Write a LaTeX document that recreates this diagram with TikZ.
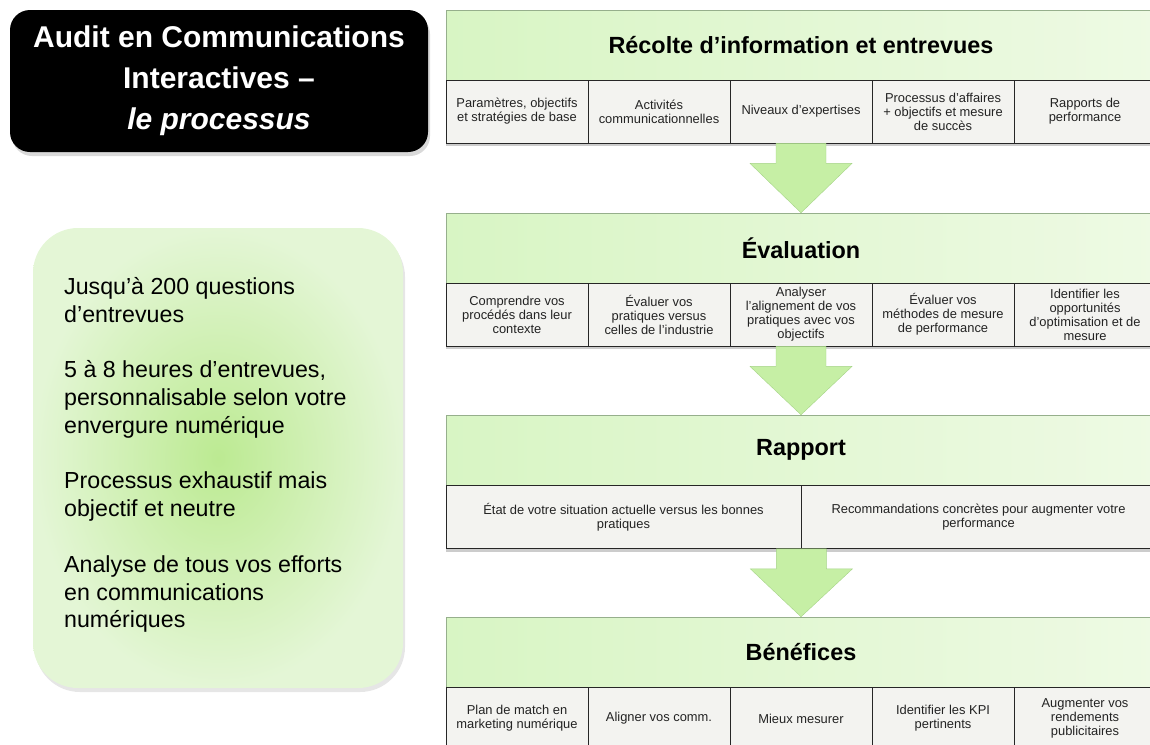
\documentclass[tikz,border=0pt]{standalone}
\usepackage{fontspec}
\setmainfont{Liberation Sans}
\usetikzlibrary{calc}
\usetikzlibrary{shadows}
\definecolor{headl}{RGB}{216,245,196}
\definecolor{headm}{RGB}{200,240,166}
\definecolor{headr}{RGB}{238,250,228}
\definecolor{headline}{RGB}{150,175,140}
\definecolor{cellfill}{RGB}{243,243,240}
\definecolor{celltext}{RGB}{35,35,35}
\definecolor{arrowfill}{RGB}{198,239,165}
\definecolor{arrowline}{RGB}{165,212,135}
\definecolor{infoin}{RGB}{188,234,146}
\definecolor{infoout}{RGB}{228,246,214}
\tikzset{
    titlebox/.style = {rectangle, rounded corners=20pt, fill=black, text=white, minimum width=418pt, minimum height=142pt, align=center, font=\bfseries\fontsize{30}{41}\selectfont, drop shadow={shadow xshift=2pt, shadow yshift=-4pt, opacity=.3}},
    infobox/.style = {rectangle, rounded corners=45pt, inner color=infoin, outer color=infoout, minimum width=370pt, minimum height=460pt, drop shadow={shadow xshift=2pt, shadow yshift=-4pt, opacity=.2}},
    infotext/.style = {align=left, inner sep=0pt, font=\fontsize{23.2}{27.8}\selectfont},
    head/.style = {rectangle, draw=headline, left color=headl, middle color=headm, right color=headr, minimum width=710pt, minimum height=70pt, font=\bfseries\fontsize{23.4}{26}\selectfont},
    cell/.style = {rectangle, draw=black!85, thick, fill=cellfill, text=celltext, minimum width=142pt, minimum height=63pt, inner sep=2pt, align=center, font=\fontsize{12.9}{14}\selectfont, drop shadow={shadow xshift=0pt, shadow yshift=-3pt, opacity=.4}},
    widecell/.style = {cell, minimum width=355pt},
    bigarrow/.style = {draw=arrowline, fill=arrowfill, line join=miter}
}
\newcommand{\flowarrow}[2]{%
  \draw[bigarrow] ($(#1)+(-25,0)$) -- ($(#1)+(25,0)$) -- ($(#1)+(25,20)$) -- ($(#1)+(51,20)$) -- (#2) -- ($(#1)+(-51,20)$) -- ($(#1)+(-25,20)$) -- cycle;}
\begin{document}
\begin{tikzpicture}[x=1pt,y=-1pt]
\useasboundingbox (0,0) rectangle (1150,744);

% left column
\node[titlebox] at (219,81) (t) {Audit en Communications\\Interactives --\\\itshape le processus};
\node[infobox] at (218,458) (b) {};
\node[infotext, anchor=west] at (64,455) (i) {Jusqu'à 200 questions\\d'entrevues\\[27.8pt]
  5 à 8 heures d'entrevues,\\personnalisable selon votre\\envergure numérique\\[27.8pt]
  Processus exhaustif mais\\objectif et neutre\\[27.8pt]
  Analyse de tous vos efforts\\en communications\\numériques};

% panel 1
\node[head] at (801,45) (h1) {Récolte d'information et entrevues};
\node[cell] at (517,111.5) (c11) {Paramètres, objectifs\\et stratégies de base};
\node[cell] at (659,111.5) (c12) {Activités\\communicationnelles};
\node[cell] at (801,111.5) (c13) {Niveaux d'expertises};
\node[cell] at (943,111.5) (c14) {Processus d'affaires\\+ objectifs et mesure\\de succès};
\node[cell] at (1085,111.5) (c15) {Rapports de\\performance};

% panel 2
\node[head] at (801,248) (h2) {Évaluation};
\node[cell] at (517,314.5) (c21) {Comprendre vos\\procédés dans leur\\contexte};
\node[cell] at (659,314.5) (c22) {Évaluer vos\\pratiques versus\\celles de l'industrie};
\node[cell] at (801,314.5) (c23) {Analyser\\l'alignement de vos\\pratiques avec vos\\objectifs};
\node[cell] at (943,314.5) (c24) {Évaluer vos\\méthodes de mesure\\de performance};
\node[cell] at (1085,314.5) (c25) {Identifier les\\opportunités\\d'optimisation et de\\mesure};

% panel 3
\node[head] at (801,450) (h3) {Rapport};
\node[widecell] at (623.5,517) (c31) {État de votre situation actuelle versus les bonnes\\pratiques};
\node[widecell] at (978.5,517) (c32) {Recommandations concrètes pour augmenter votre\\performance};

% panel 4
\node[head] at (801,652) (h4) {Bénéfices};
\node[cell] at (517,718.5) (c41) {Plan de match en\\marketing numérique};
\node[cell] at (659,718.5) (c42) {Aligner vos comm.};
\node[cell] at (801,718.5) (c43) {Mieux mesurer};
\node[cell] at (943,718.5) (c44) {Identifier les KPI\\pertinents};
\node[cell] at (1085,718.5) (c45) {Augmenter vos\\rendements\\publicitaires};

% arrows between panels
\flowarrow{c13.south}{h2.north}
\flowarrow{c23.south}{h3.north}
\flowarrow{c31.south east}{h4.north}

\end{tikzpicture}
\end{document}
